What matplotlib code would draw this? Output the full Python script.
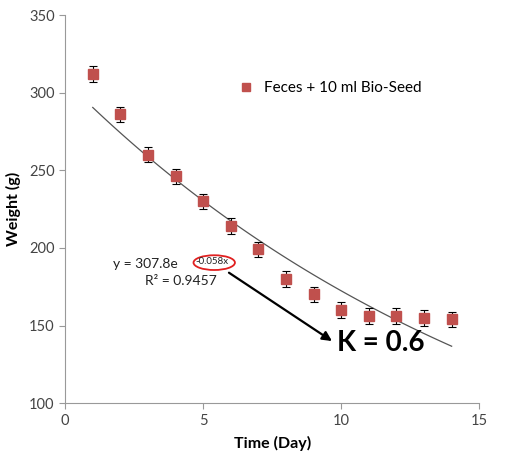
import numpy as np
import matplotlib.pyplot as plt
from matplotlib.patches import Ellipse

plt.rcParams['font.family'] = ['Lato', 'DejaVu Sans']

days = [1, 2, 3, 4, 5, 6, 7, 8, 9, 10, 11, 12, 13, 14]
weight = [312, 286, 260, 246, 230, 214, 199, 180, 170, 160, 156, 156, 155, 154]
err = [5, 5, 5, 5, 5, 5, 5, 5, 5, 5, 5, 5, 5, 5]
fit_a = 307.8
fit_k = -0.058

fig = plt.figure(figsize=(5.17, 4.55), dpi=100)
ax = fig.add_axes([0.126, 0.114, 0.801, 0.853])

xs = np.linspace(days[0], days[-1], 100)
ax.plot(xs, fit_a * np.exp(fit_k * xs), color='#555555', lw=0.9, zorder=2)
ax.errorbar(days, weight, yerr=err, fmt='none', ecolor='black',
            elinewidth=0.8, capsize=3, capthick=0.8, zorder=3)
ax.plot(days, weight, 's', color='#C0504D', ms=6.5, ls='', zorder=4,
        label='Feces + 10 ml Bio-Seed')

ax.set_xlim(0, 15)
ax.set_ylim(100, 350)
ax.set_xticks([0, 5, 10, 15])
ax.set_yticks([100, 150, 200, 250, 300, 350])
for s in ['top', 'right']:
    ax.spines[s].set_visible(False)
for s in ['left', 'bottom']:
    ax.spines[s].set_color('#999999')
ax.tick_params(colors='#999999', labelcolor='#444444', labelsize=10.5, length=4)
ax.set_xlabel('Time (Day)', fontsize=11.5, fontweight='bold', labelpad=6)
ax.set_ylabel('Weight (g)', fontsize=11.5, fontweight='bold', labelpad=6)

ax.legend(loc='upper left', bbox_to_anchor=(0.385, 0.865), frameon=False,
          fontsize=11, handletextpad=0.7, handlelength=1.0, markerscale=0.9)

# fit equation with circled exponent
ax.text(1.75, 189.6, 'y = 307.8e', fontsize=10, va='center', ha='left', color='#222222')
ax.text(4.7, 191.3, '-0.058x', fontsize=7, va='center', ha='left', color='#222222')
ax.add_patch(Ellipse((5.4, 190.5), 1.5, 9.5, fill=False, edgecolor='#E02020', lw=1.3))
ax.text(2.9, 178.8, 'R² = 0.9457', fontsize=10, va='center', ha='left', color='#222222')

ax.annotate('', xy=(9.75, 139), xytext=(5.85, 185),
            arrowprops=dict(arrowstyle='-|>', color='black', lw=1.6, mutation_scale=14))
ax.text(9.85, 138.5, 'K = 0.6', fontsize=20, fontweight='bold', va='center', ha='left')

fig.savefig('out.png', dpi=100)
